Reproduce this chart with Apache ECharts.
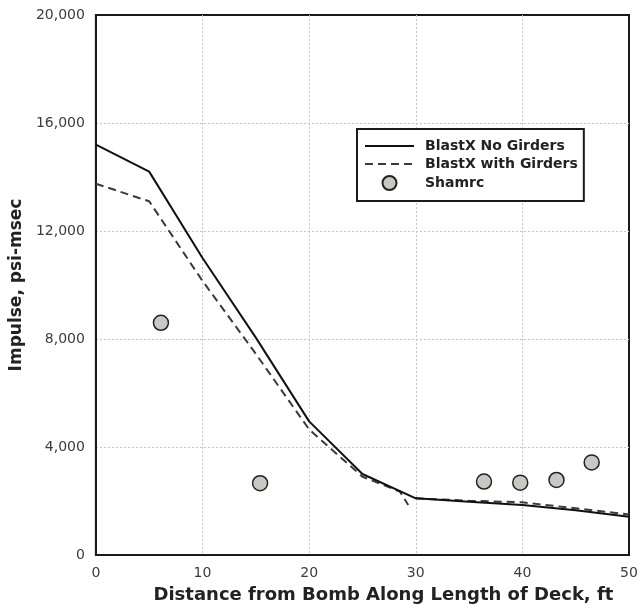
<!DOCTYPE html>
<html>
<head>
<meta charset="utf-8">
<script src="https://cdn.jsdelivr.net/npm/echarts@6/dist/echarts.min.js"></script>
<style>
html,body{margin:0;padding:0;background:#fff;}
#chart{width:643px;height:613px;}
</style>
</head>
<body>
<div id="chart"></div>
<script>
// Distance (ft) for BlastX curves
var noGirdersX = [0, 5, 10, 15, 20, 25, 30, 35, 40, 45, 50];
var noGirdersY = [15200, 14200, 11000, 8050, 4950, 3000, 2100, 1975, 1850, 1660, 1420];

var withGirdersX = [0, 5, 10, 15, 20, 25, 28.5, 29.3, 29.6, 30, 35, 40, 45, 50];
var withGirdersY = [13750, 13100, 10150, 7450, 4650, 2900, 2350, 1850, null, 2100, 2010, 1950, 1730, 1500];

var shamrcX = [6.1, 15.4, 36.4, 39.8, 43.2, 46.5];
var shamrcY = [8600, 2660, 2720, 2680, 2780, 3430];

var xTicks = [0, 10, 20, 30, 40, 50];
var yTicks = [0, 4000, 8000, 12000, 16000, 20000];

function pairs(xs, ys) {
  return xs.map(function (x, i) { return [x, ys[i]]; });
}

var chart = echarts.init(document.getElementById('chart'), null, {renderer: 'canvas'});
var tickFont = {fontFamily: 'DejaVu Sans', fontSize: 14, color: '#3c3c3c'};

chart.setOption({
  backgroundColor: '#ffffff',
  animation: false,
  grid: {
    left: 93, right: 14, top: 15, bottom: 58,
    show: true, borderColor: '#1a1a1a', borderWidth: 2, backgroundColor: 'transparent'
  },
  legend: {
    orient: 'vertical',
    left: 357, top: 129,
    padding: [10, 6, 10, 7],
    itemWidth: 49, itemHeight: 14, itemGap: 4,
    borderColor: '#1a1a1a', borderWidth: 2,
    backgroundColor: '#ffffff',
    textStyle: {fontFamily: 'DejaVu Sans', fontWeight: 'bold', fontSize: 14, color: '#222', padding: [0, 0, 0, 6]},
    data: [
      {name: 'BlastX No Girders', itemStyle: {opacity: 0}},
      {name: 'BlastX with Girders', itemStyle: {opacity: 0}},
      {name: 'Shamrc'}
    ]
  },
  xAxis: {
    type: 'value', min: xTicks[0], max: xTicks[xTicks.length - 1], interval: 10,
    name: 'Distance from Bomb Along Length of Deck, ft',
    nameLocation: 'middle', nameGap: 31,
    nameTextStyle: {fontFamily: 'DejaVu Sans', fontWeight: 'bold', fontSize: 18, color: '#222', padding: [0, 0, 0, 42]},
    axisLine: {show: true, lineStyle: {color: '#1a1a1a', width: 2}},
    axisTick: {show: false},
    axisLabel: Object.assign({margin: 11}, tickFont),
    splitLine: {show: true, showMinLine: false, showMaxLine: false, lineStyle: {color: '#c4c4c4', width: 1, type: [2, 2]}}
  },
  yAxis: {
    type: 'value', min: yTicks[0], max: yTicks[yTicks.length - 1], interval: 4000,
    name: 'Impulse, psi-msec',
    nameLocation: 'middle', nameGap: 57,
    nameTextStyle: {fontFamily: 'DejaVu Sans', fontWeight: 'bold', fontSize: 17, color: '#222'},
    axisLine: {show: true, lineStyle: {color: '#1a1a1a', width: 2}},
    axisTick: {show: false},
    axisLabel: Object.assign({
      margin: 11,
      formatter: function (v) { return v.toLocaleString('en-US'); }
    }, tickFont),
    splitLine: {show: true, showMinLine: false, showMaxLine: false, lineStyle: {color: '#c4c4c4', width: 1, type: [2, 2]}}
  },
  series: [
    {
      name: 'BlastX No Girders', type: 'line', symbol: 'none',
      data: pairs(noGirdersX, noGirdersY),
      lineStyle: {color: '#111', width: 2, type: 'solid'},
      itemStyle: {color: '#111'},
      z: 3
    },
    {
      name: 'BlastX with Girders', type: 'line', symbol: 'none',
      connectNulls: false,
      data: pairs(withGirdersX, withGirdersY),
      lineStyle: {color: '#3a3a3a', width: 2, type: [8, 5]},
      itemStyle: {color: '#3a3a3a'},
      z: 2
    },
    {
      name: 'Shamrc', type: 'scatter', symbol: 'circle', symbolSize: 15,
      data: pairs(shamrcX, shamrcY),
      itemStyle: {color: '#c9c9c3', borderColor: '#222', borderWidth: 1.5, opacity: 1},
      z: 4
    }
  ]
});
</script>
</body>
</html>
